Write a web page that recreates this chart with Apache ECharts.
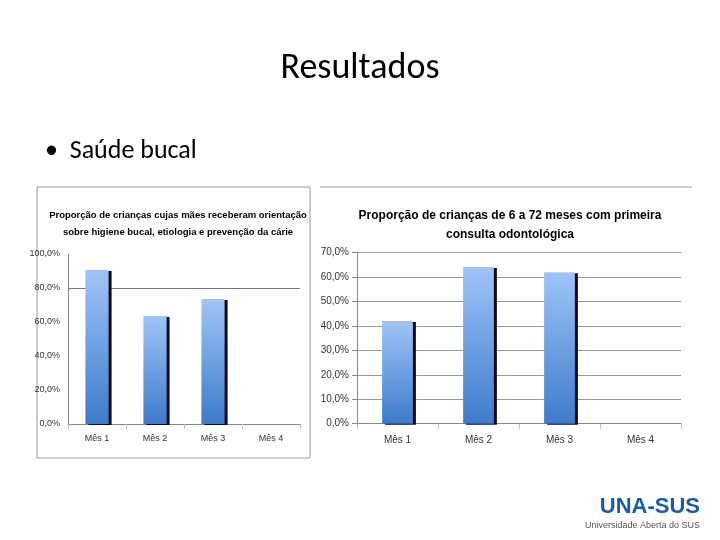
<!DOCTYPE html>
<html>
<head>
<meta charset="utf-8">
<script src="https://cdn.jsdelivr.net/npm/echarts@6/dist/echarts.min.js"></script>
<style>html,body{margin:0;padding:0;background:#fff}#main{width:720px;height:540px}</style>
</head>
<body>
<div id="main"></div>
<script>
const categories = ['Mês 1', 'Mês 2', 'Mês 3', 'Mês 4'];
const orientacaoValues = [90.6, 63.5, 73.5, 0];
const consultaValues = [42.0, 64.1, 62.0, 0];

const chart = echarts.init(document.getElementById('main'));

const barStyle = {
  color: new echarts.graphic.LinearGradient(0, 0, 0, 1, [
    { offset: 0, color: '#9fc4f7' },
    { offset: 1, color: '#3d7bcc' }
  ]),
  shadowColor: '#0a0a1a',
  shadowOffsetX: 3,
  shadowOffsetY: 1,
  shadowBlur: 0
};
const pct = v => v.toFixed(1).replace('.', ',') + '%';
const font = 'Liberation Sans Narrow, Liberation Sans, sans-serif';

chart.setOption({
  animation: false,
  graphic: [
    { type: 'text', left: 'center', top: 51, style: { text: 'Resultados', font: '36px Calibri, Carlito, "Open Sans", sans-serif', fill: '#000' } },
    { type: 'text', left: 45, top: 138, style: { text: '•  Saúde bucal', font: '26px Calibri, Carlito, "Open Sans", sans-serif', fill: '#000' } },
    { type: 'rect', shape: { x: 37, y: 187, width: 273, height: 271 }, style: { fill: 'none', stroke: '#999', lineWidth: 1 } },
    { type: 'line', shape: { x1: 320, y1: 187, x2: 692, y2: 187 }, style: { stroke: '#999', lineWidth: 1 } },
    { type: 'text', right: 20, bottom: 22, style: { text: 'UNA-SUS', font: 'bold 22px "Liberation Sans", sans-serif', fill: '#1d5aa8' } },
    { type: 'text', right: 20, bottom: 10, style: { text: 'Universidade Aberta do SUS', font: '9px "Liberation Sans", sans-serif', fill: '#555' } }
  ],
  title: [
    { text: 'Proporção de crianças cujas mães receberam orientação\nsobre higiene bucal, etiologia e prevenção da cárie', left: 173, top: 202, textAlign: 'center',
      textStyle: { fontSize: 9.5, fontWeight: 'bold', color: '#000', lineHeight: 17, fontFamily: font } },
    { text: 'Proporção de crianças de 6 a 72 meses com primeira\nconsulta odontológica', left: 505, top: 201, textAlign: 'center',
      textStyle: { fontSize: 12, fontWeight: 'bold', color: '#000', lineHeight: 19, fontFamily: font } }
  ],
  grid: [
    { left: 68, top: 254, width: 232, height: 170 },
    { left: 357, top: 252.7, width: 324, height: 171 }
  ],
  xAxis: [
    { type: 'category', gridIndex: 0, data: categories, axisLine: { lineStyle: { color: '#888' } }, axisTick: { show: true, lineStyle: { color: '#bbb' } },
      axisLabel: { fontSize: 9, color: '#333', fontFamily: font, margin: 10 } },
    { type: 'category', gridIndex: 1, data: categories, axisLine: { lineStyle: { color: '#888' } }, axisTick: { show: true, lineStyle: { color: '#bbb' } },
      axisLabel: { fontSize: 10, color: '#333', fontFamily: font, margin: 12 } }
  ],
  yAxis: [
    { type: 'value', gridIndex: 0, min: 0, max: 100, interval: 20, axisLine: { show: true, lineStyle: { color: '#888' } }, axisTick: { show: false },
      axisLabel: { fontSize: 9, color: '#333', fontFamily: font, formatter: pct },
      splitLine: { lineStyle: { color: ['transparent', 'transparent', 'transparent', 'transparent', '#777', 'transparent'] } } },
    { type: 'value', gridIndex: 1, min: 0, max: 70, interval: 10, axisLine: { show: true, lineStyle: { color: '#888' } }, axisTick: { show: true },
      axisLabel: { fontSize: 10, color: '#333', fontFamily: font, formatter: pct },
      splitLine: { lineStyle: { color: '#999' } } }
  ],
  series: [
    { type: 'bar', xAxisIndex: 0, yAxisIndex: 0, data: orientacaoValues, barWidth: '40%', itemStyle: barStyle },
    { type: 'bar', xAxisIndex: 1, yAxisIndex: 1, data: consultaValues, barWidth: '38%', itemStyle: barStyle }
  ]
});
</script>
</body>
</html>
